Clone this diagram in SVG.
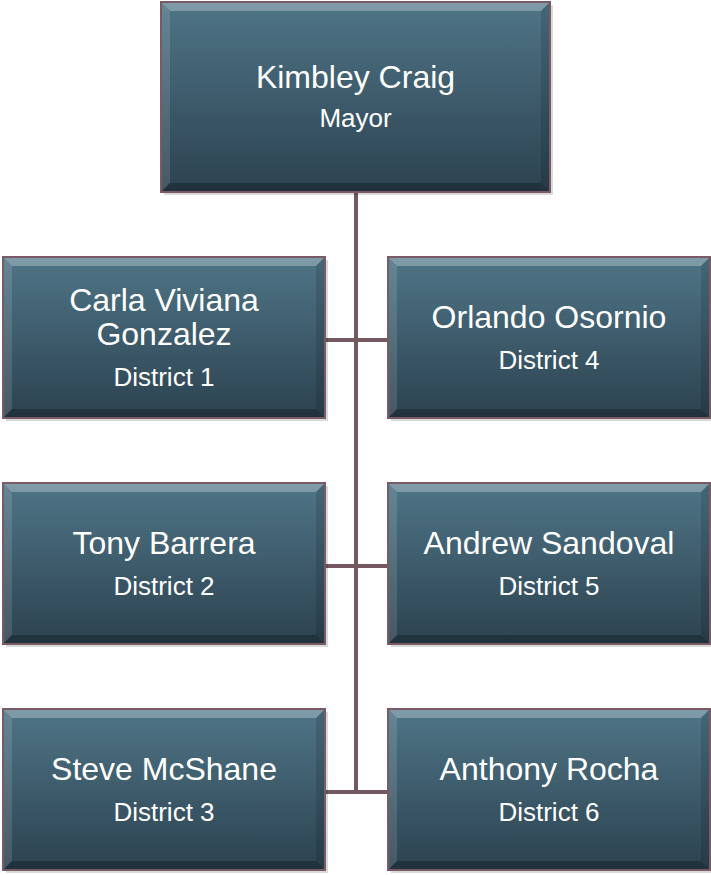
<svg xmlns="http://www.w3.org/2000/svg" width="711" height="875" viewBox="0 0 711 875">
<defs>
<linearGradient id="fillG" x1="0" y1="0" x2="0" y2="1">
<stop offset="0" stop-color="#4f7587"/>
<stop offset="1" stop-color="#2c4250"/>
</linearGradient>
<g id="bevelChild">
<rect x="3" y="3" width="322" height="161" fill="#000" opacity="0.15"/>
<rect x="0" y="0" width="322" height="161" fill="url(#fillG)"/>
<polygon points="0,0 322,0 313,9 9,9" fill="#ffffff" opacity="0.28"/>
<polygon points="0,0 9,9 9,152 0,161" fill="#ffffff" opacity="0.12"/>
<polygon points="322,0 322,161 313,152 313,9" fill="#000000" opacity="0.12"/>
<polygon points="0,161 9,152 313,152 322,161" fill="#000000" opacity="0.25"/>
<rect x="0" y="0" width="322" height="161" fill="none" stroke="#7a5a64" stroke-width="2"/>
</g>
</defs>
<style>
.name{font-family:"Liberation Sans",Arial,sans-serif;font-size:32px;fill:#ffffff;text-anchor:middle}
.role{font-family:"Liberation Sans",Arial,sans-serif;font-size:26px;fill:#ffffff;text-anchor:middle}
.conn{stroke:#735860;stroke-width:4;fill:none}
</style>
<g id="connectors">
<line class="conn" x1="356" y1="192" x2="356" y2="793"/>
<line class="conn" x1="325" y1="340" x2="388" y2="340"/>
<line class="conn" x1="325" y1="566" x2="388" y2="566"/>
<line class="conn" x1="325" y1="792" x2="388" y2="792"/>
</g>
<g id="mayor">
<rect x="164" y="5" width="389" height="190" fill="#000" opacity="0.15"/>
<rect x="161" y="2" width="389" height="190" fill="url(#fillG)"/>
<polygon points="161,2 550,2 541,11 170,11" fill="#ffffff" opacity="0.28"/>
<polygon points="161,2 170,11 170,183 161,192" fill="#ffffff" opacity="0.12"/>
<polygon points="550,2 550,192 541,183 541,11" fill="#000000" opacity="0.12"/>
<polygon points="161,192 170,183 541,183 550,192" fill="#000000" opacity="0.25"/>
<rect x="161" y="2" width="389" height="190" fill="none" stroke="#7a5a64" stroke-width="2"/>
<text class="name" x="355.5" y="88">Kimbley Craig</text>
<text class="role" x="355.5" y="127">Mayor</text>
</g>
<g id="district1">
<use href="#bevelChild" x="3" y="257"/>
<text class="name" x="164" y="311">Carla Viviana</text>
<text class="name" x="164" y="345">Gonzalez</text>
<text class="role" x="164" y="386">District 1</text>
</g>
<g id="district4">
<use href="#bevelChild" x="388" y="257"/>
<text class="name" x="549" y="328">Orlando Osornio</text>
<text class="role" x="549" y="369">District 4</text>
</g>
<g id="district2">
<use href="#bevelChild" x="3" y="483"/>
<text class="name" x="164" y="554">Tony Barrera</text>
<text class="role" x="164" y="595">District 2</text>
</g>
<g id="district5">
<use href="#bevelChild" x="388" y="483"/>
<text class="name" x="549" y="554">Andrew Sandoval</text>
<text class="role" x="549" y="595">District 5</text>
</g>
<g id="district3">
<use href="#bevelChild" x="3" y="709"/>
<text class="name" x="164" y="780">Steve McShane</text>
<text class="role" x="164" y="821">District 3</text>
</g>
<g id="district6">
<use href="#bevelChild" x="388" y="709"/>
<text class="name" x="549" y="780">Anthony Rocha</text>
<text class="role" x="549" y="821">District 6</text>
</g>
</svg>
